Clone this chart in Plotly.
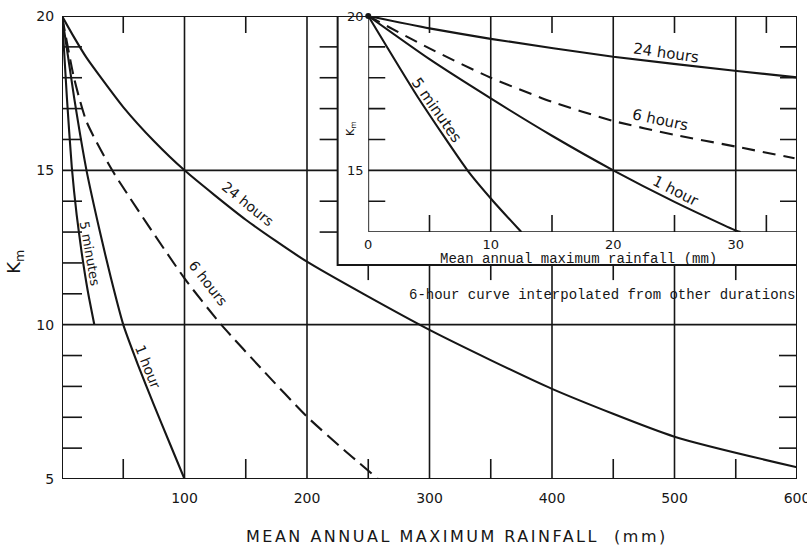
import plotly.graph_objects as go

# ---------------- data ----------------
# main chart: mean annual maximum rainfall (mm) vs Km
MAIN_X_TICKS = [100, 200, 300, 400, 500, 600]
MAIN_Y_TICKS = [5, 10, 15, 20]
MAIN_X_MINOR = [50, 150, 250, 350, 450, 550]
MAIN_Y_MINOR = [6, 7, 8, 9, 11, 12, 13, 14, 16, 17, 18, 19]

M5MIN_X = [0, 4, 8, 12, 16, 21, 26.4]
M5MIN_K = [20, 17.35, 15.1, 13.55, 12.35, 11.1, 10]

M1H_X = [0, 10, 20, 31, 40, 50, 62, 75, 88, 100]
M1H_K = [20, 17.33, 15, 13, 11.5, 10, 8.7, 7.4, 6.15, 5]

M6H_X = [0, 10, 20, 41, 100, 130, 165, 200, 230, 258]
M6H_K = [20, 17.96, 16.58, 15, 11.5, 10, 8.48, 7.02, 5.95, 5]

M24H_X = [0, 10, 20, 30, 50, 75, 100, 150, 200, 300, 400, 500, 600]
M24H_K = [20, 19.3, 18.65, 18.1, 17.05, 15.95, 15.0, 13.4, 12.04, 9.83, 7.92, 6.37, 5.38]

# inset chart
INSET_X_TICKS = [0, 10, 20, 30]
INSET_Y_TICKS = [15, 20]
INSET_X_MINOR = [5, 15, 25, 32.5]
INSET_Y_MINOR = [14, 16, 17, 18, 19]

I5MIN_X = [0, 4, 8.1, 10.2, 12.5]
I5MIN_K = [20, 17.4, 15, 14.0, 13.0]

I1H_X = [0, 5, 10, 15, 20, 25, 30, 30.4]
I1H_K = [20, 18.6, 17.33, 16.12, 15.0, 13.98, 13.05, 13.0]

I6H_X = [0, 5, 10, 15, 20, 25, 30, 34.8]
I6H_K = [20, 18.95, 18.0, 17.22, 16.6, 16.15, 15.77, 15.39]

I24H_X = [0, 5, 10, 20, 30.1, 35]
I24H_K = [20, 19.6, 19.26, 18.68, 18.22, 18.01]

# ---------------- layout constants ----------------
INK = "#161616"
MAIN_XR = [0, 600]
MAIN_YR = [5, 20]
INSET_XR = [0, 35]
INSET_YR = [13, 20]
BOX_X0 = 225      # left edge of the inset panel, in main x units
BOX_Y0 = 11.93    # bottom edge of the inset panel, in main Km units
SANS = "DejaVu Sans"
MONO = "Liberation Mono"

fig = go.Figure()

def add_curve(xs, ks, axes, dash="solid"):
    xa, ya = axes
    fig.add_trace(go.Scatter(
        x=xs, y=ks, mode="lines", xaxis=xa, yaxis=ya,
        line=dict(color=INK, width=2.1, dash=dash, shape="spline", smoothing=0.6),
        hoverinfo="skip", showlegend=False))

add_curve(M5MIN_X, M5MIN_K, ("x", "y"))
add_curve(M1H_X, M1H_K, ("x", "y"))
add_curve(M6H_X, M6H_K, ("x", "y"), dash="15px,7px")
add_curve(M24H_X, M24H_K, ("x", "y"))

add_curve(I5MIN_X, I5MIN_K, ("x2", "y2"))
add_curve(I1H_X, I1H_K, ("x2", "y2"))
add_curve(I6H_X, I6H_K, ("x2", "y2"), dash="13px,8px")
add_curve(I24H_X, I24H_K, ("x2", "y2"))

# dot where the inset curves converge
fig.add_trace(go.Scatter(x=[I24H_X[0]], y=[I24H_K[0]], mode="markers", xaxis="x2", yaxis="y2",
                         marker=dict(color=INK, size=6), cliponaxis=False,
                         hoverinfo="skip", showlegend=False))

shapes = []

def seg(xref, yref, x0, y0, x1, y1, w=1.6):
    shapes.append(dict(type="line", xref=xref, yref=yref, x0=x0, y0=y0, x1=x1, y1=y1,
                       line=dict(color=INK, width=w)))

def htick(xref, yref, xanchor, y, length, w=1.6):
    shapes.append(dict(type="line", xref=xref, yref=yref, xsizemode="pixel", xanchor=xanchor,
                       x0=0, x1=length, y0=y, y1=y, line=dict(color=INK, width=w)))

def vtick(xref, yref, yanchor, x, length, w=1.6):
    shapes.append(dict(type="line", xref=xref, yref=yref, ysizemode="pixel", yanchor=yanchor,
                       y0=0, y1=length, x0=x, x1=x, line=dict(color=INK, width=w)))

# ----- main frame -----
seg("x", "y", MAIN_XR[0], MAIN_YR[0], MAIN_XR[0], MAIN_YR[1], 2)
seg("x", "y", MAIN_XR[0], MAIN_YR[0], MAIN_XR[1], MAIN_YR[0], 2)
seg("x", "y", MAIN_XR[0], MAIN_YR[1], BOX_X0, MAIN_YR[1], 2)
seg("x", "y", MAIN_XR[1], MAIN_YR[0], MAIN_XR[1], BOX_Y0, 2)
# inset panel box
shapes.append(dict(type="rect", xref="x", yref="y", x0=BOX_X0, y0=BOX_Y0, x1=MAIN_XR[1], y1=MAIN_YR[1],
                   line=dict(color=INK, width=2)))

# ----- main grid -----
for xv in MAIN_X_TICKS[:-1]:
    top = MAIN_YR[1] if xv < BOX_X0 else BOX_Y0
    seg("x", "y", xv, MAIN_YR[0], xv, top, 1.6)
for kv in MAIN_Y_TICKS[1:-1]:
    right = MAIN_XR[1] if kv < BOX_Y0 else BOX_X0
    seg("x", "y", MAIN_XR[0], kv, right, kv, 1.6)

# ----- main minor ticks -----
for kv in MAIN_Y_MINOR:
    htick("x", "y", MAIN_XR[0], kv, 20)
    if kv > BOX_Y0 + 0.5:
        htick("x", "y", BOX_X0, kv, -18)
    elif kv < 10:
        htick("x", "y", MAIN_XR[1], kv, -18)
for xv in MAIN_X_MINOR:
    vtick("x", "y", MAIN_YR[0], xv, 20)
    if xv < BOX_X0:
        vtick("x", "y", MAIN_YR[1], xv, -17)
    else:
        vtick("x", "y", BOX_Y0, xv, -15)

# ----- inset frame, grid, ticks -----
shapes.append(dict(type="rect", xref="x2", yref="y2", x0=INSET_XR[0], y0=INSET_YR[0],
                   x1=INSET_XR[1], y1=INSET_YR[1], line=dict(color=INK, width=1.8)))
for xv in INSET_X_TICKS[1:]:
    seg("x2", "y2", xv, INSET_YR[0], xv, INSET_YR[1], 1.6)
for kv in INSET_Y_TICKS[:-1]:
    seg("x2", "y2", INSET_XR[0], kv, INSET_XR[1], kv, 1.6)
for xv in INSET_X_MINOR:
    vtick("x2", "y2", INSET_YR[1], xv, -17)
    vtick("x2", "y2", INSET_YR[0], xv, 17)
for kv in INSET_Y_MINOR:
    htick("x2", "y2", INSET_XR[0], kv, 17)
    htick("x2", "y2", INSET_XR[1], kv, -17)

# ----- annotations -----
ann = []

def label(text, x, y, angle, xref="x", yref="y", size=14, family=SANS):
    ann.append(dict(text=text, x=x, y=y, xref=xref, yref=yref, textangle=angle,
                    showarrow=False, xanchor="center", yanchor="middle",
                    font=dict(family=family, size=size, color=INK)))

# main curve labels
label("24 hours", 151.8, 13.91, 39)
label("6 hours", 119.2, 11.35, 52)
label("1 hour", 70.2, 8.63, 68)
label("5 minutes", 22.9, 12.32, 80, size=13)
# inset curve labels
label("24 hours", 24.3, 18.8, 8, "x2", "y2", 15)
label("6 hours", 23.85, 16.63, 12, "x2", "y2", 15)
label("1 hour", 25.1, 14.33, 27, "x2", "y2", 15)
label("5 minutes", 5.57, 16.95, 55, "x2", "y2", 15)

# inset axis texts (placed in main-axis coordinates, which cover the inset panel)
label("Mean annual maximum rainfall (mm)", 422, 12.13, 0, "x", "y", 14, MONO)
label("K<sub>m</sub>", 235.9, 16.37, -90, "x", "y", 11)
# note
label("6-hour curve interpolated from other durations", 440.8, 10.96, 0, "x", "y", 14, MONO)

# main axis titles
ann.append(dict(text='<span style="letter-spacing:2.5px">MEAN ANNUAL MAXIMUM RAINFALL \u00a0(mm)</span>',
                x=0.537, y=-0.125, xref="paper", yref="paper", showarrow=False,
                xanchor="center", yanchor="middle", font=dict(family=SANS, size=16, color=INK)))
ann.append(dict(text="K<sub>m</sub>", x=-0.064, y=0.469, xref="paper", yref="paper",
                showarrow=False, textangle=-90, xanchor="center", yanchor="middle",
                font=dict(family=SANS, size=18, color=INK)))

axis_common = dict(showgrid=False, zeroline=False, showline=False, ticks="outside",
                   tickcolor="rgba(0,0,0,0)", automargin=False, ticklabeloverflow="allow")

fig.update_layout(
    width=807, height=548,
    margin=dict(l=62, r=10, t=16, b=69, autoexpand=False),
    paper_bgcolor="white", plot_bgcolor="white",
    showlegend=False,
    xaxis=dict(domain=[0, 1], range=MAIN_XR, tickvals=MAIN_X_TICKS, ticklen=6,
               tickfont=dict(family=SANS, size=14, color=INK), **axis_common),
    yaxis=dict(domain=[0, 1], range=MAIN_YR, tickvals=MAIN_Y_TICKS, ticklen=4,
               tickfont=dict(family=SANS, size=14, color=INK), **axis_common),
    xaxis2=dict(domain=[250 / 600, 1], range=INSET_XR, anchor="y2", tickvals=INSET_X_TICKS, ticklen=0,
                tickfont=dict(family=SANS, size=13, color=INK), **axis_common),
    yaxis2=dict(domain=[8 / 15, 1], range=INSET_YR, anchor="x2", tickvals=INSET_Y_TICKS, ticklen=1,
                tickfont=dict(family=SANS, size=13, color=INK), **axis_common),
    shapes=shapes,
    annotations=ann,
)

fig.write_html("out.html", config={"displayModeBar": False},
               post_script="document.body.style.margin='0';document.body.style.overflow='hidden';")
